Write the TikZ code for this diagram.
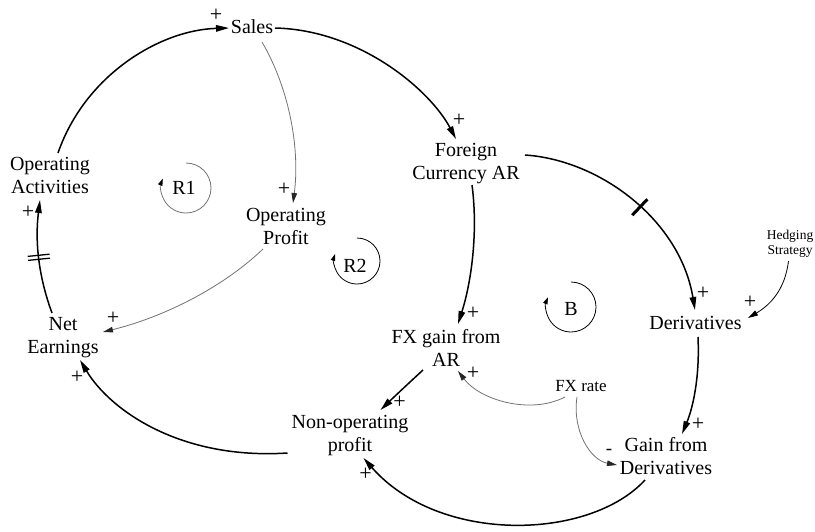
\documentclass[tikz,border=0pt]{standalone}
\usepackage{fontspec}
\setmainfont{Liberation Serif}
\usetikzlibrary{arrows.meta,calc,decorations.markings}

\begin{document}
\begin{tikzpicture}[x=1pt,y=-1pt,
  var/.style={align=center, font=\fontsize{20}{23}\selectfont, inner sep=0pt},
  smallvar/.style={align=center, font=\fontsize{13.5}{15.5}\selectfont, inner sep=0pt},
  link/.style={line width=1.5pt, -{Triangle[length=13pt,width=6.5pt]}},
  greylink/.style={line width=0.8pt, draw=black!55, -{Triangle[length=10pt,width=5.5pt,color=black!85]}},
  finelink/.style={line width=0.8pt, -{Triangle[length=10pt,width=5.5pt]}},
  sgn/.style={font=\fontsize{22}{22}\selectfont, inner sep=0pt},
  loopsym/.style={line width=0.8pt, -{Triangle[length=7pt,width=4.5pt,color=black]}},
  delaytwo/.style={postaction={decorate, decoration={markings,
      mark=at position #1 with {\draw[line width=1.3pt,-,black] (-2pt,-11pt) -- (-2pt,11pt) (2pt,-11pt) -- (2pt,11pt);}}}},
  delayone/.style={postaction={decorate, decoration={markings,
      mark=at position #1 with {\draw[line width=3pt,-,black] (0pt,-11pt) -- (0pt,11pt);}}}},
]
\useasboundingbox[fill=white] (0,0) rectangle (815,531);

% variables
\node[var] (sales) at (252,27) {Sales};
\node[var] (oa) at (50,175.5) {Operating\\Activities};
\node[var] (fca) at (466,164) {Foreign\\Currency AR};
\node[var] (op) at (286,226.5) {Operating\\Profit};
\node[var] (ne) at (63,338) {Net\\Earnings};
\node[var] (fxg) at (446,347.5) {FX gain from\\AR};
\node[var] (der) at (695.5,323) {Derivatives};
\node[smallvar] (hs) at (790,244) {Hedging\\Strategy};
\node[font=\fontsize{17}{20}\selectfont, inner sep=0pt] (fxr) at (581,386) {FX rate};
\node[var] (nop) at (350,435.5) {Non-operating\\profit};
\node[var] (gfd) at (666,456) {Gain from\\Derivatives};

% loop labels
\node[var] (r1) at (184,188) {R1};
\node[var] (r2) at (355,266) {R2};
\node[var] (b) at (571,308.5) {B};

% loop symbols
\draw[loopsym, draw=black!55] ($(r1)+(2,0)+(90:25pt)$) arc[start angle=90, end angle=-202, radius=25pt];
\draw[loopsym] ($(r2)+(2,-5)+(90:23pt)$) arc[start angle=90, end angle=-198, radius=23pt];
\draw[loopsym] ($(b)+(0,-1.5)+(90:25pt)$) arc[start angle=90, end angle=-203, radius=25pt];

% causal links
\draw[link] ($(oa)+(8,-22.5)$) .. controls (85,75) and (160,30) .. ($(sales)+(-23,1)$)
  node[sgn, shift={(-13,-13)}] (s1) {+};
\draw[link] ($(sales)+(23,1)$) .. controls (360,30) and (430,90) .. ($(fca)+(-10,-25)$)
  node[sgn, shift={(3,-19)}] (s2) {+};
\draw[greylink] ($(sales)+(10,15)$) .. controls (290,90) and (300,150) .. ($(op)+(7,-23.5)$)
  node[sgn, shift={(-9,-14)}] (s3) {+};
\draw[greylink] ($(op)+(-23,22.5)$) .. controls (220,290) and (160,318) .. ($(ne)+(40,-6)$)
  node[sgn, shift={(10,-14)}] (s4) {+};
\draw[link, delaytwo=0.5] ($(ne)+(-11,-25)$) .. controls (38,275) and (35,240) .. ($(oa)+(-10,24.5)$)
  node[sgn, shift={(-12,12)}] (s5) {+};
\draw[link, delayone=0.52] ($(fca)+(59,-9)$) .. controls (600,160) and (680,220) .. ($(der)+(-0.5,-13)$)
  node[sgn, shift={(8,-17)}] (s6) {+};
\draw[finelink] ($(hs)+(-1.5,17)$) .. controls (785,290) and (770,305) .. ($(der)+(52.5,-5)$)
  node[sgn, shift={(2,-16)}] (s7) {+};
\draw[link] ($(fca)+(6,21)$) .. controls (478,230) and (472,280) .. ($(fxg)+(12,-23.5)$)
  node[sgn, shift={(15,-11)}] (s8) {+};
\draw[greylink] ($(fxr)+(-16,11)$) .. controls (530,415) and (480,400) .. ($(fxg)+(12,23.5)$)
  node[sgn, shift={(15,2)}] (s9) {+};
\draw[greylink] ($(fxr)+(-4,11)$) .. controls (572,430) and (590,460) .. ($(gfd)+(-49,9)$)
  node[sgn, font=\fontsize{19}{19}\selectfont, shift={(-8,-13)}] (s10) {-};
\draw[link] ($(der)+(2.5,14)$) .. controls (700,380) and (692,410) .. ($(gfd)+(16,-22)$)
  node[sgn, shift={(16,-10)}] (s11) {+};
\draw[link] ($(fxg)+(-23,22.5)$) .. controls (410,382) and (395,396) .. ($(nop)+(30.5,-25.5)$)
  node[sgn, shift={(19,-8)}] (s12) {+};
\draw[link] ($(nop)+(-62.5,17.5)$) .. controls (180,460) and (110,410) .. ($(ne)+(17,22)$)
  node[sgn, shift={(-3,17)}] (s13) {+};
\draw[link] ($(gfd)+(-21,24)$) .. controls (590,540) and (440,545) .. ($(nop)+(13.5,22.5)$)
  node[sgn, shift={(2,16)}] (s14) {+};
\end{tikzpicture}
\end{document}
